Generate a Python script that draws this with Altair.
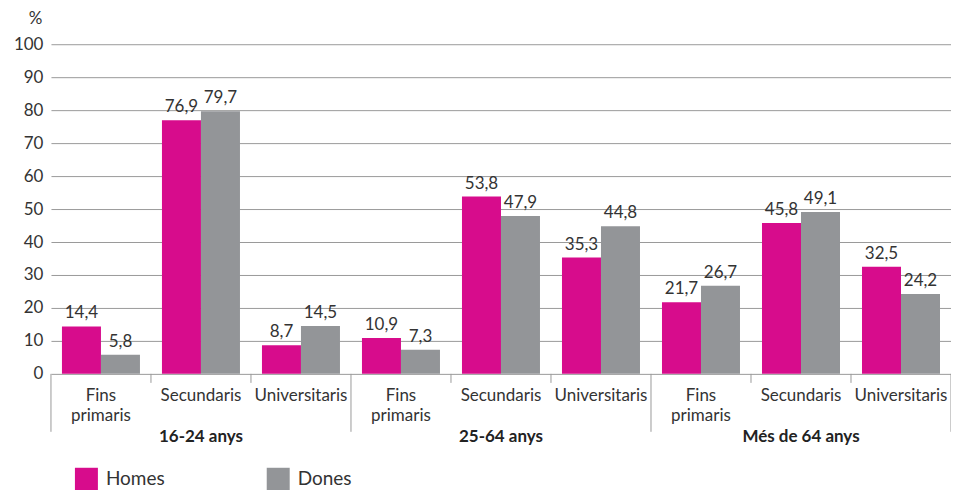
import altair as alt
import pandas as pd

groups = ["16-24 anys", "25-64 anys", "Més de 64 anys"]
levels = ["Fins\nprimaris", "Secundaris", "Universitaris"]
series = ["Homes", "Dones"]
homes = [14.4, 76.9, 8.7, 10.9, 53.8, 35.3, 21.7, 45.8, 32.5]
dones = [5.8, 79.7, 14.5, 7.3, 47.9, 44.8, 26.7, 49.1, 24.2]
colors = ["#D70C8C", "#939598"]
yticks = list(range(0, 101, 10))

FONT = "Lato"

cats = [f"{g}|{l}" for g in groups for l in levels]
rows = []
for i, c in enumerate(cats):
    for s, vals in zip(series, [homes, dones]):
        v = vals[i]
        rows.append({"cat": c, "serie": s, "value": v,
                     "label": f"{v:.1f}".replace(".", ",")})
df = pd.DataFrame(rows)

cat_df = pd.DataFrame({"cat": cats, "level": [c.split("|")[1] for c in cats]})
grp_df = pd.DataFrame({"cat": [f"{g}|{levels[1]}" for g in groups], "group": groups})
long_df = pd.DataFrame({"cat": [f"{g}|{levels[0]}" for g in groups]})
short_df = pd.DataFrame({"cat": [f"{g}|{l}" for g in groups for l in levels[1:]]})
end_df = pd.DataFrame({"cat": [cats[-1]]})

xscale = alt.Scale(domain=cats, paddingInner=0, paddingOuter=0)
offscale = alt.Scale(domain=series, paddingInner=0, paddingOuter=0.282)
cscale = alt.Scale(domain=series, range=colors)
yscale = alt.Scale(domain=[0, 100], nice=False)
yaxis = alt.Axis(values=yticks, tickCount=20, labelOverlap=False,
                 grid=True, ticks=False,
                 domain=False, labelPadding=8, labelFontSize=17,
                 labelColor="#333333", labelFont=FONT,
                 gridColor="#9a9a9a", gridWidth=1,
                 title="%", titleAngle=0, titleX=-16, titleY=-26,
                 titleAlign="center", titleBaseline="middle",
                 titleFontWeight="normal", titleFontSize=17,
                 titleColor="#333333", titleFont=FONT)

H = 330

bars = alt.Chart(df).mark_bar().encode(
    x=alt.X("cat:N", scale=xscale, axis=None, sort=cats),
    xOffset=alt.XOffset("serie:N", scale=offscale, sort=series),
    y=alt.Y("value:Q", scale=yscale, axis=yaxis),
    color=alt.Color("serie:N", scale=cscale, sort=series,
                    legend=alt.Legend(orient="none", legendX=24, legendY=424,
                                      direction="horizontal", title=None,
                                      symbolType="square", symbolSize=529,
                                      symbolStrokeWidth=0, labelFontSize=19,
                                      labelFont=FONT, labelColor="#333333",
                                      labelOffset=8, columnPadding=102)),
)

vals = alt.Chart(df).mark_text(baseline="alphabetic", dy=-8, fontSize=17,
                               font=FONT, color="#333333").encode(
    x=alt.X("cat:N", scale=xscale, axis=None, sort=cats),
    xOffset=alt.XOffset("serie:N", scale=offscale, sort=series),
    y=alt.Y("value:Q", scale=yscale, axis=yaxis),
    text="label:N",
)

short_rules = alt.Chart(short_df).mark_rule(color="#9a9a9a", strokeWidth=1).encode(
    x=alt.X("cat:N", scale=xscale, axis=None, sort=cats, bandPosition=0),
    y=alt.value(H), y2=alt.value(H + 9),
)
long_rules = alt.Chart(long_df).mark_rule(color="#9a9a9a", strokeWidth=1).encode(
    x=alt.X("cat:N", scale=xscale, axis=None, sort=cats, bandPosition=0),
    y=alt.value(H), y2=alt.value(H + 58),
)
end_rule = alt.Chart(end_df).mark_rule(color="#9a9a9a", strokeWidth=1).encode(
    x=alt.X("cat:N", scale=xscale, axis=None, sort=cats, bandPosition=1),
    y=alt.value(H), y2=alt.value(H + 58),
)

cat_labels = alt.Chart(cat_df).mark_text(baseline="top", lineBreak="\n", fontSize=17,
                                         font=FONT, color="#333333",
                                         lineHeight=20).encode(
    x=alt.X("cat:N", scale=xscale, axis=None, sort=cats, bandPosition=0.5),
    y=alt.value(H + 14),
    text="level:N",
)
grp_labels = alt.Chart(grp_df).mark_text(baseline="middle", fontSize=17, font=FONT,
                                         fontWeight="bold", color="#222222").encode(
    x=alt.X("cat:N", scale=xscale, axis=None, sort=cats, bandPosition=0.5),
    y=alt.value(H + 63),
    text="group:N",
)

chart = alt.layer(bars, vals, short_rules, long_rules, end_rule, cat_labels, grp_labels).properties(
    width=901, height=H,
    autosize=alt.AutoSizeParams(type="none"),
    padding={"left": 43, "top": 36, "right": 0, "bottom": 122},
).configure_view(stroke=None)

chart.save("out.html", embed_options={"renderer": "svg", "actions": False})
